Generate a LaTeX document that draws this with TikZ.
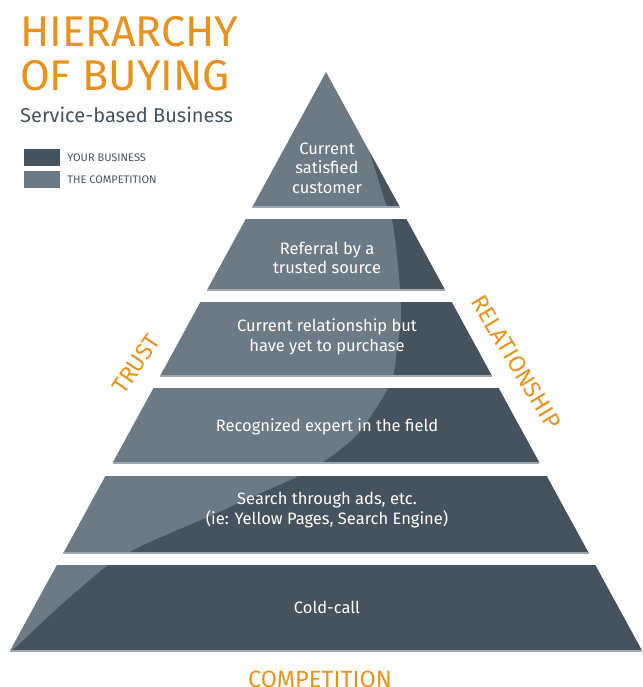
\documentclass[tikz,border=0pt]{standalone}
\usepackage{fontspec}
\setmainfont{Fira Sans}
\usetikzlibrary{positioning}
\usetikzlibrary{calc}
\definecolor{business}{RGB}{69,83,94}
\definecolor{competition}{RGB}{107,122,133}
\definecolor{rim}{RGB}{158,168,176}
\definecolor{accent}{RGB}{232,146,30}
\tikzset{every picture/.style={x=1pt,y=-1pt},
tiertext/.style={text=white,align=center,font=\fontsize{16.5}{19.5}\selectfont},
axislabel/.style={text=accent,font=\fontsize{23.5}{24}\selectfont},
keybox/.style={minimum width=36pt,minimum height=17pt,inner sep=0pt},
keytext/.style={text=business,font=\fontsize{11}{12}\selectfont,anchor=west,inner sep=0pt}}

\begin{document}
\begin{tikzpicture}
\useasboundingbox (0,0) rectangle (642,687);

\node[anchor=base west,text=accent,font=\fontsize{43}{44}\selectfont,inner sep=0pt] (title1) at (20,47) {HIERARCHY};
\node[anchor=base west,text=accent,font=\fontsize{43}{44}\selectfont,inner sep=0pt] (title2) at (20,91) {OF BUYING};
\node[anchor=base west,text=business,font=\fontsize{20}{24}\selectfont,inner sep=0pt] (sub) at (20,123) {Service-based Business};

\node[keybox,fill=business] (k1) at (42,157.5) {};
\node[keybox,fill=competition,below=5pt of k1] (k2) {};
\node[keytext,right=7pt of k1] (k1t) {YOUR BUSINESS};
\node[keytext,right=7pt of k2] (k2t) {THE COMPETITION};

% tiers, each split by the same curve
\foreach \ya/\yb [count=\i] in {72/207,219/290,302/376,388/463,476/553,565/651} {
\pgfmathsetmacro\wa{0.546*(\ya-72)}
\pgfmathsetmacro\wb{0.546*(\yb-72)}
\coordinate (t\i-nw) at ({326-\wa},\ya);
\coordinate (t\i-ne) at ({326+\wa},\ya);
\coordinate (t\i-se) at ({326+\wb},\yb);
\coordinate (t\i-sw) at ({326-\wb},\yb);
\fill[competition] (t\i-nw) -- (t\i-ne) -- (t\i-se) -- (t\i-sw) -- cycle;
\begin{scope}
\clip (t\i-nw) -- (t\i-ne) -- (t\i-se) -- (t\i-sw) -- cycle;
\fill[business] (700,60) -- (390,60) -- plot[smooth,tension=0.55] coordinates {(366,140) (377,175) (387,207) (392,219) (397,255) (400,290) (401,320) (397,350) (392,380) (375,410) (354,438) (322,463) (299,476) (250,498) (208,517) (150,542) (128,553) (108,565) (60,606) (12,651)} -- (0,700) -- (700,700) -- cycle;
\end{scope}
\draw[rim,line width=1.5pt] (t\i-sw) -- (t\i-se);
}

\node[tiertext] (l1) at (327,168) {Current\\satisfied\\customer};
\node[tiertext] (l2) at (327,258) {Referral by a\\trusted source};
\node[tiertext] (l3) at (327,337) {Current relationship but\\have yet to purchase};
\node[tiertext] (l4) at (327,427) {Recognized expert in the field};
\node[tiertext] (l5) at (327,510) {Search through ads, etc.\\(ie: Yellow Pages, Search Engine)};
\node[tiertext] (l6) at (327,607) {Cold-call};

\node[axislabel,rotate=56] (trust) at (136,364) {TRUST};
\node[axislabel,rotate=-59] (relation) at (516,362) {RELATIONSHIP};
\node[axislabel,anchor=base] (compet) at (320,687) {COMPETITION};
\end{tikzpicture}
\end{document}
